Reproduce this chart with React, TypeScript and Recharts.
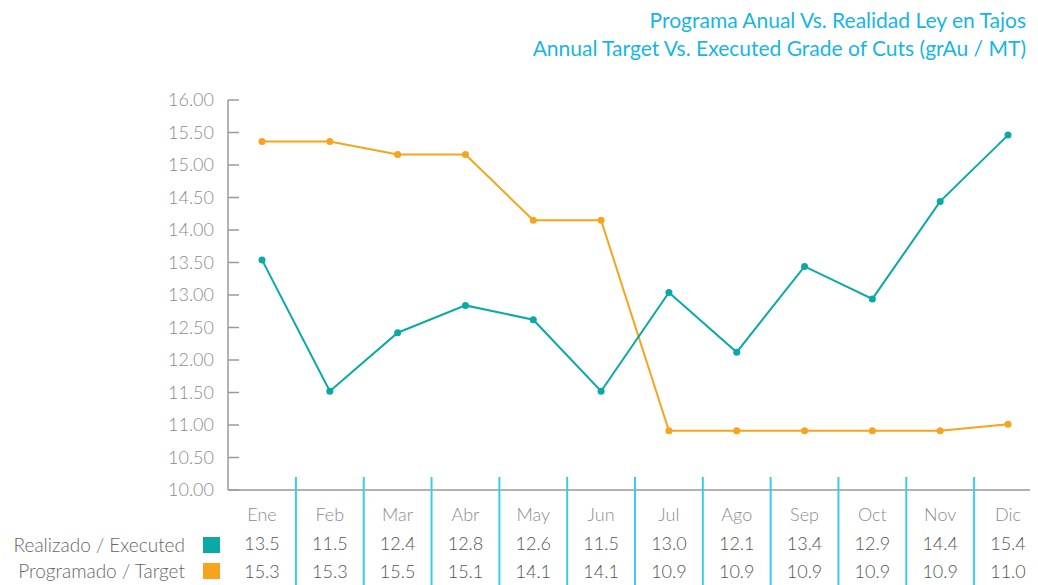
import React from 'react';
import { LineChart, Line, XAxis, YAxis } from 'recharts';

// chart data
const months = ['Ene', 'Feb', 'Mar', 'Abr', 'May', 'Jun', 'Jul', 'Ago', 'Sep', 'Oct', 'Nov', 'Dic'];
const executed = [13.54, 11.52, 12.42, 12.84, 12.62, 11.52, 13.04, 12.12, 13.44, 12.94, 14.44, 15.46];
const target = [15.36, 15.36, 15.16, 15.16, 14.15, 14.15, 10.91, 10.91, 10.91, 10.91, 10.91, 11.01];
// values printed in the table under the axis
const executedLabels = ['13.5', '11.5', '12.4', '12.8', '12.6', '11.5', '13.0', '12.1', '13.4', '12.9', '14.4', '15.4'];
const targetLabels = ['15.3', '15.3', '15.5', '15.1', '14.1', '14.1', '10.9', '10.9', '10.9', '10.9', '10.9', '11.0'];
const yTicks = [10, 10.5, 11, 11.5, 12, 12.5, 13, 13.5, 14, 14.5, 15, 15.5, 16];

const data = months.map((m, i) => ({ month: m, executed: executed[i], target: target[i] }));

const W = 1038;
const H = 585;
const AXIS_X = 228;
const X_AXIS_H = 95;
const PAD_L = 34;
const PAD_R = 30;
const STEP = (W - AXIS_X - PAD_L - PAD_R) / (months.length - 1);

const TEAL = '#0aa9a8';
const ORANGE = '#f7a41d';
const CYAN = '#3ccbeb';
const FONT = 'Lato, "Open Sans", sans-serif';

const YTick = ({ x, y, payload }: any) => (
  <g>
    <line x1={x} x2={x + 11} y1={y} y2={y} stroke="#9a9a9a" strokeWidth={1.5} />
    <text x={x - 14} y={y + 6} textAnchor="end" fontSize={18} fill="#8c8c8c" fontFamily={FONT} fontWeight={300}>
      {payload.value.toFixed(2)}
    </text>
  </g>
);

const XTick = ({ x, y, payload, index }: any) => (
  <g>
    {index > 0 && (
      <line x1={x - STEP / 2} x2={x - STEP / 2} y1={y - 13} y2={H} stroke={CYAN} strokeWidth={2} />
    )}
    <text x={x} y={y + 31} textAnchor="middle" fontSize={18} fill="#8c8c8c" fontFamily={FONT} fontWeight={300}>
      {payload.value}
    </text>
    <text x={x} y={y + 60} textAnchor="middle" fontSize={18} fill="#555" fontFamily={FONT} fontWeight={300}>
      {executedLabels[index]}
    </text>
    <text x={x} y={y + 88} textAnchor="middle" fontSize={18} fill="#555" fontFamily={FONT} fontWeight={300}>
      {targetLabels[index]}
    </text>
  </g>
);

const legendRows = [
  { label: 'Realizado / Executed', color: TEAL, top: 537 },
  { label: 'Programado / Target', color: ORANGE, top: 563 },
];

export default function App() {
  return (
    <div style={{ position: 'relative', width: W, height: H, margin: '-8px -8px 0 -8px', background: '#fff', fontFamily: FONT, overflow: 'hidden' }}>
      <div style={{ position: 'absolute', right: 12, top: 6, textAlign: 'right', color: '#17b6e2', fontSize: 21, lineHeight: '28px' }}>
        <div>Programa Anual Vs. Realidad Ley en Tajos</div>
        <div>Annual Target Vs. Executed Grade of Cuts (grAu / MT)</div>
      </div>
      <LineChart width={W} height={H} data={data} margin={{ top: 100, right: 0, bottom: 0, left: 0 }}>
        <XAxis
          dataKey="month"
          height={X_AXIS_H}
          padding={{ left: PAD_L, right: PAD_R }}
          axisLine={{ stroke: '#9a9a9a', strokeWidth: 1.5 }}
          tickLine={false}
          tickSize={0}
          tickMargin={0}
          interval={0}
          tick={<XTick />}
        />
        <YAxis
          width={AXIS_X}
          domain={[10, 16]}
          ticks={yTicks}
          axisLine={{ stroke: '#9a9a9a', strokeWidth: 1.5 }}
          tickLine={false}
          tickSize={0}
          tickMargin={0}
          interval={0}
          tick={<YTick />}
        />
        <Line dataKey="target" stroke={ORANGE} strokeWidth={2} dot={{ r: 3.5, fill: ORANGE, stroke: ORANGE, strokeWidth: 0 }} isAnimationActive={false} />
        <Line dataKey="executed" stroke={TEAL} strokeWidth={2} dot={{ r: 3.5, fill: TEAL, stroke: TEAL, strokeWidth: 0 }} isAnimationActive={false} />
      </LineChart>
      {legendRows.map((r) => (
        <div key={r.label}>
          <div style={{ position: 'absolute', right: W - 185, top: r.top - 5, fontSize: 19, color: '#666', fontWeight: 300, whiteSpace: 'nowrap', lineHeight: '26px' }}>
            {r.label}
          </div>
          <div style={{ position: 'absolute', left: 203, top: r.top, width: 17, height: 16, background: r.color }} />
        </div>
      ))}
    </div>
  );
}
